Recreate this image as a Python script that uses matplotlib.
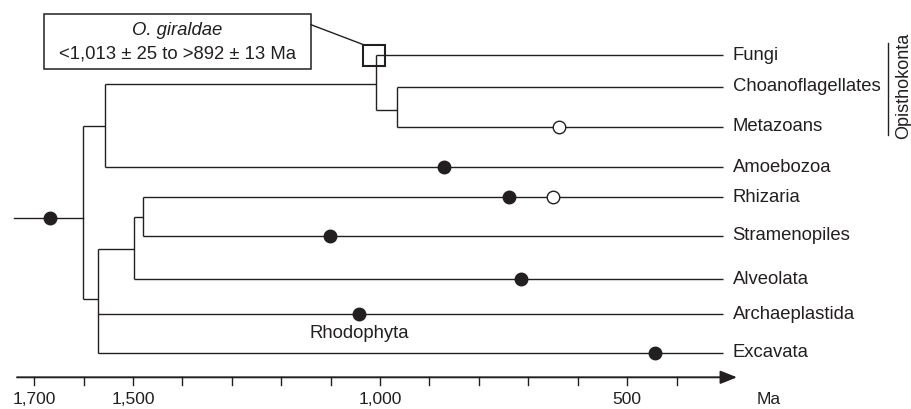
import matplotlib
matplotlib.use('Agg')
import matplotlib.pyplot as plt
from matplotlib.patches import Rectangle

plt.rcParams['font.family'] = ['Liberation Sans', 'DejaVu Sans']

# ---------------- data ----------------
leaves = ["Fungi", "Choanoflagellates", "Metazoans", "Amoebozoa", "Rhizaria",
          "Stramenopiles", "Alveolata", "Archaeplastida", "Excavata"]
tip_ma = 306           # where the leaf branches end (Ma)
root_stem_ma = 1741    # start of root stem (Ma)

node_names = ["root", "upper", "opisthokonta", "holozoa", "lower", "sar", "sr"]
node_ages = [1601, 1557, 1009, 966, 1571, 1499, 1479]
node_children = [["upper", "lower"],
                 ["opisthokonta", "Amoebozoa"],
                 ["Fungi", "holozoa"],
                 ["Choanoflagellates", "Metazoans"],
                 ["sar", "Archaeplastida", "Excavata"],
                 ["sr", "Alveolata"],
                 ["Rhizaria", "Stramenopiles"]]

filled_taxa = ["root", "Amoebozoa", "Rhizaria", "Stramenopiles", "Alveolata",
               "Archaeplastida", "Excavata"]
filled_ma = [1668, 871, 740, 1101, 715, 1042, 443]
open_taxa = ["Metazoans", "Rhizaria"]
open_ma = [638, 651]

tick_values = list(range(1700, 399, -100))
tick_label_values = [1700, 1500, 1000, 500]
tick_label_texts = ["1,700", "1,500", "1,000", "500"]

fossil_name = "O. giraldae"
fossil_range = "<1,013 \u00b1 25 to >892 \u00b1 13 Ma"

# ---------------- layout (rows in figure pixels) ----------------
leaf_row = [55.3, 86.7, 126.7, 167.3, 197.3, 236.0, 279.0, 314.3, 352.7]
node_row = [217.7, 125.7, 84.0, 110.3, 299.0, 249.3, 216.7]
axis_row = 377.3

C = '#231f20'
LW = 1.0

fig = plt.figure(figsize=(9.12, 4.09), dpi=100)
ax = fig.add_axes([0, 0, 1, 1])
ax.set_xlim(1769.4, -76.7)
ax.set_ylim(409, 0)
ax.axis('off')

age = dict(zip(node_names, node_ages))
row = dict(zip(node_names, node_row))
row.update(dict(zip(leaves, leaf_row)))
for lf in leaves:
    age[lf] = tip_ma

# tree
for name, children in zip(node_names, node_children):
    ys = [row[c] for c in children] + [row[name]]
    ax.plot([age[name], age[name]], [min(ys), max(ys)], color=C, lw=LW,
            solid_capstyle='butt')
    for c in children:
        ax.plot([age[name], age[c]], [row[c], row[c]], color=C, lw=LW,
                solid_capstyle='butt')
ax.plot([root_stem_ma, age["root"]], [row["root"], row["root"]], color=C, lw=LW)

# leaf labels
for lf in leaves:
    ax.annotate(lf, (tip_ma, row[lf]), xytext=(7, 0), textcoords='offset points',
                va='center', ha='left', fontsize=13.3, color=C)

# fossils
ax.plot(filled_ma, [row[t] for t in filled_taxa], 'o', ms=9, color=C,
        markeredgecolor=C, zorder=5)
ax.plot(open_ma, [row[t] for t in open_taxa], 'o', ms=9, markerfacecolor='white',
        markeredgecolor=C, mew=1.0, zorder=5)

# Rhodophyta label
ax.text(filled_ma[filled_taxa.index("Archaeplastida")], 333.5, "Rhodophyta",
        ha='center', va='center', fontsize=13.3, color=C)

# O. giraldae box + node square
ax.add_patch(Rectangle((1679.8, 14.0), 1139.9 - 1679.8, 55.3, fill=False,
                       edgecolor=C, lw=1.1))
ax.text(1409.9, 30.5, fossil_name, ha='center', va='center', fontsize=13.3,
        style='italic', color=C)
ax.text(1409.9, 54.0, fossil_range, ha='center', va='center', fontsize=13.3,
        color=C)
sq_center = age["opisthokonta"] + 3
ax.add_patch(Rectangle((sq_center + 22, row["Fungi"] - 10.7), -44, 21.4,
                       fill=False, edgecolor=C, lw=1.5, zorder=4))
ax.plot([1139.9, sq_center + 22], [24.7, row["Fungi"] - 10.7], color=C, lw=1.0)

# Opisthokonta bracket
ax.plot([-28.7, -28.7], [42.7, 135.0], color=C, lw=1.0)
ax.text(-59.5, 86.0, "Opisthokonta", rotation=90, ha='center', va='center',
        fontsize=13, color=C)

# time axis
ax.annotate('', xy=(277.5, axis_row), xytext=(1735, axis_row),
            arrowprops=dict(arrowstyle='-|>,head_length=1.0,head_width=0.4',
                            lw=1.4, color=C, shrinkA=0, shrinkB=0))
for t in tick_values:
    ax.plot([t, t], [axis_row, axis_row + 7.5], color=C, lw=1.0)
for t, s in zip(tick_label_values, tick_label_texts):
    ax.text(t, 400, s, ha='center', va='center', fontsize=12.5, color=C)
ax.text(214, 400, "Ma", ha='center', va='center', fontsize=12.5, color=C)

fig.savefig('out.png', dpi=100)
